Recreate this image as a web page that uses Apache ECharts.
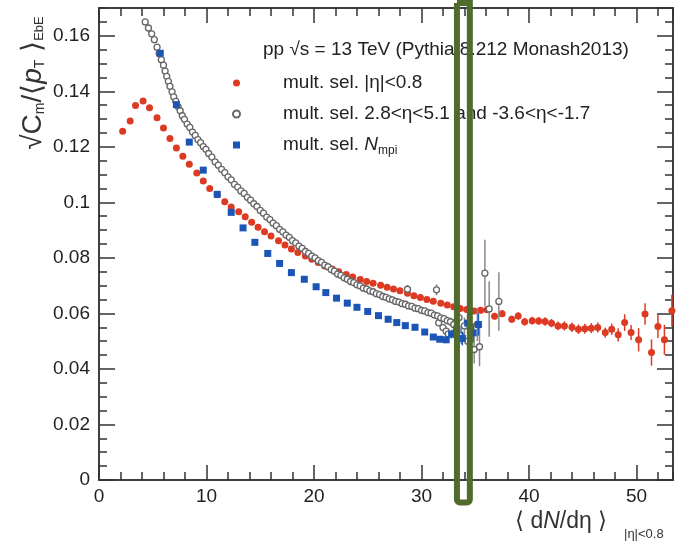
<!DOCTYPE html>
<html><head><meta charset="utf-8">
<script src="https://cdn.jsdelivr.net/npm/echarts@6/dist/echarts.min.js"></script>
<style>html,body{margin:0;padding:0;background:#fff}#c{width:682px;height:547px}</style>
</head><body><div id="c"></div>
<script>
// ---------------- data ----------------
const xMin = 0, xMax = 53.4, xMajor = 10, xMinor = 2;
const yMin = 0, yMax = 0.17, yMajor = 0.02, yMinor = 0.005;

const nameRed = 'mult. sel. |η|<0.8';
const nameGray = 'mult. sel. 2.8<η<5.1 and -3.6<η<-1.7';
const nameBlue = 'mult. sel. Nmpi';
const headerText = 'pp √s = 13 TeV (Pythia 8.212 Monash2013)';

const redX = [2.2,2.9,3.4,4.1,4.7,5.4,6.0,6.6,7.2,7.8,
  8.4,9.1,9.7,10.3,11.0,11.7,12.3,13.0,13.6,14.2,
  14.8,15.4,16.0,16.7,17.3,17.9,18.5,19.2,19.8,20.4,
  21.0,21.7,22.3,23.0,23.6,24.3,24.9,25.5,26.2,26.8,
  27.4,28.0,28.7,29.3,29.9,30.5,31.1,31.8,32.4,33.0,
  33.6,34.2,34.9,35.5,36.1,36.8,37.5,38.4,39.0,39.6,
  40.3,40.9,41.5,42.1,42.7,43.3,44.0,44.6,45.2,45.8,
  46.4,47.1,47.7,48.3,48.9,49.5,50.2,50.8,51.4,52.0,
  52.6,53.3];
const redY = [.1256,.1293,.1349,.1365,.1341,.1305,.1268,.1230,.1196,.1166,
  .1137,.1106,.1077,.1050,.1027,.1002,.0983,.0966,.0948,.0928,
  .0910,.0894,.0879,.0862,.0846,.0832,.0819,.0807,.0795,.0783,
  .0771,.0760,.0750,.0740,.0731,.0722,.0715,.0709,.0701,.0694,
  .0688,.0682,.0673,.0664,.0657,.0650,.0644,.0637,.0630,.0624,
  .0618,.0614,.0609,.0611,.0613,.0590,.0599,.0579,.0591,.0570,
  .0574,.0573,.0571,.0565,.0555,.0555,.0550,.0543,.0545,.0547,
  .0549,.0531,.0543,.0523,.0567,.0531,.0505,.0598,.0459,.0553,
  .0505,.0610];
const redErr = [.0002,.0002,.0002,.0002,.0002,.0002,.0002,.0002,.0002,.0002,
  .0002,.0002,.0002,.0002,.0002,.0002,.0002,.0002,.0002,.0002,
  .0003,.0003,.0003,.0003,.0003,.0003,.0003,.0003,.0003,.0003,
  .0004,.0004,.0004,.0004,.0004,.0004,.0004,.0004,.0004,.0004,
  .0005,.0005,.0006,.0006,.0007,.0007,.0008,.0008,.0009,.0009,
  .0010,.0010,.0010,.0011,.0011,.0012,.0012,.0013,.0013,.0014,
  .0014,.0014,.0015,.0015,.0016,.0016,.0017,.0017,.0018,.0018,
  .0018,.0018,.0020,.0024,.0030,.0027,.0042,.0039,.0047,.0042,
  .0054,.0057];

const grayX = [4.3,4.6,4.9,5.15,5.4,5.6,5.8,6.0,6.15,6.3,
  6.45,6.6,6.8,6.95,7.15,7.35,7.55,7.75,7.95,8.2,
  8.45,8.7,8.95,9.2,9.45,9.7,9.95,10.2,10.5,10.8,
  11.1,11.4,11.7,12.0,12.3,12.6,12.9,13.2,13.5,13.8,
  14.1,14.4,14.7,15.0,15.3,15.6,15.9,16.2,16.5,16.8,
  17.1,17.4,17.7,18.0,18.3,18.6,18.9,19.2,19.5,19.8,
  20.1,20.4,20.7,21.0,21.3,21.6,21.9,22.2,22.5,22.8,
  23.1,23.4,23.7,24.0,24.3,24.6,24.9,25.2,25.5,25.8,
  26.1,26.4,26.7,27.0,27.3,27.6,27.9,28.2,28.5,28.8,
  29.1,29.4,29.7,30.0,30.3,30.6,30.9,31.2,31.5,31.6,
  31.8,32.0,32.1,32.3,32.4,32.5];
const grayY = [.1650,.1628,.1607,.1586,.1559,.1536,.1514,.1494,.1473,.1454,
  .1436,.1418,.1398,.1380,.1364,.1345,.1330,.1312,.1299,.1282,
  .1270,.1253,.1241,.1226,.1215,.1201,.1191,.1176,.1163,.1146,
  .1134,.1119,.1107,.1092,.1081,.1065,.1055,.1041,.1032,.1018,
  .1008,.0995,.0985,.0971,.0961,.0947,.0938,.0925,.0916,.0903,
  .0894,.0882,.0874,.0862,.0854,.0842,.0834,.0823,.0816,.0806,
  .0800,.0790,.0784,.0774,.0768,.0758,.0752,.0742,.0737,.0728,
  .0723,.0715,.0711,.0703,.0699,.0691,.0688,.0681,.0678,.0671,
  .0668,.0661,.0658,.0652,.0649,.0643,.0641,.0635,.0633,.0627,
  .0625,.0619,.0617,.0611,.0609,.0603,.0601,.0594,.0591,.0566,
  .0584,.0549,.0581,.0536,.0574,.0526];
const grayTailX = [28.7,31.4,32.7,33.0,33.2,33.5,33.7,34.0,34.3,34.6,34.9,35.2,35.4,35.9,36.3,37.2];
const grayTailY = [.0687,.0685,.0570,.0560,.0535,.0585,.0520,.0555,.0500,.0545,.0470,.0560,.0480,.0745,.0616,.0643];
const grayTailErr = [.0015,.0020,.0015,.0020,.0020,.0025,.0030,.0030,.0035,.0040,.0050,.0060,.0070,.0120,.0100,.0105];

const blueX = [5.7,7.2,8.4,9.7,11.0,12.3,13.4,14.5,15.7,16.8,
  17.9,19.1,20.2,21.1,22.1,23.1,24.0,25.0,26.0,26.9,
  27.7,28.5,29.4,30.3,31.1,31.7,32.3,32.8,33.3,33.8,
  34.3,34.8,35.3];
const blueY = [.1537,.1352,.1217,.1116,.1029,.0964,.0908,.0856,.0816,.0780,
  .0747,.0723,.0696,.0675,.0655,.0637,.0622,.0607,.0592,.0579,
  .0567,.0556,.0550,.0533,.0515,.0507,.0505,.0525,.0545,.0510,
  .0565,.0530,.0560];
const blueErr = [0,0,0,0,0,0,0,0,0,0,
  0,0,0,0,0,0,0,0,0,0,
  0,0,0,0,0,0,.0010,.0015,.0020,.0025,
  .0030,.0035,.0040];

// highlight box (annotation) in data coordinates
const boxX = [33.3, 34.5];
const boxY = [0.1718, -0.0081];

// ---------------- chart ----------------
const FONT = '"Liberation Sans", Arial, Helvetica, sans-serif';
const AX = '#333';
const RED = '#dc3a22', BLUE = '#1b55b5', GRAY = '#666';

const zip3 = (xs, ys, es) => xs.map((x, i) => [x, ys[i], es ? es[i] : 0]);
const redData = zip3(redX, redY, redErr);
const grayData = zip3(grayX, grayY).concat(zip3(grayTailX, grayTailY, grayTailErr));
const blueData = zip3(blueX, blueY, blueErr);

function axis(kind, pos, grid, interval, tickLen, labels) {
  const isX = kind === 'x';
  return {
    type: 'value', gridIndex: grid, position: pos,
    min: isX ? xMin : yMin, max: isX ? xMax : yMax, interval: interval,
    axisLine: { show: true, onZero: false, lineStyle: { color: AX, width: 1.5 } },
    axisTick: { show: true, inside: true, length: tickLen, lineStyle: { color: AX, width: 1.5 } },
    axisLabel: labels ? { show: true, fontSize: 19, color: '#222', fontFamily: FONT, margin: isX ? 7 : 9, showMaxLabel: false } : { show: false },
    splitLine: { show: false }
  };
}

function errSeries(data, color, z) {
  return {
    type: 'custom', xAxisIndex: 0, yAxisIndex: 0, data: data, z: z, silent: true, clip: true,
    renderItem(params, api) {
      const x = api.value(0), y = api.value(1), e = api.value(2);
      if (!(e > 0)) return null;
      const a = api.coord([x, y - e]), b = api.coord([x, y + e]);
      return { type: 'line', shape: { x1: a[0], y1: a[1], x2: b[0], y2: b[1] }, style: { stroke: color, lineWidth: 1.5 } };
    }
  };
}

const gridRect = { left: 99, right: 9, top: 8, bottom: 67 };
const chart = echarts.init(document.getElementById('c'));
const option = {
  animation: false,
  backgroundColor: '#fff',
  textStyle: { fontFamily: FONT },
  grid: [Object.assign({}, gridRect), Object.assign({}, gridRect)],
  xAxis: [
    axis('x', 'bottom', 0, xMajor, 15, true),
    axis('x', 'top', 0, xMajor, 15, false),
    axis('x', 'bottom', 1, xMinor, 8, false),
    axis('x', 'top', 1, xMinor, 8, false)
  ],
  yAxis: [
    axis('y', 'left', 0, yMajor, 16, true),
    axis('y', 'right', 0, yMajor, 16, false),
    axis('y', 'left', 1, yMinor, 8, false),
    axis('y', 'right', 1, yMinor, 8, false)
  ],
  title: {
    text: headerText, left: 258, top: 35,
    textStyle: { fontSize: 19, fontWeight: 'normal', color: '#222', fontFamily: FONT }
  },
  legend: {
    data: [nameRed, nameGray, nameBlue],
    orient: 'vertical', left: 227, top: 67,
    itemWidth: 7, itemHeight: 7, itemGap: 9,
    selectedMode: false,
    formatter(name) {
      if (name === nameBlue) return '{g| }{t|mult. sel. }{i|N}{s|mpi}';
      return '{g| }{t|' + name + '}';
    },
    textStyle: {
      fontSize: 19, color: '#222', fontFamily: FONT, lineHeight: 22,
      rich: {
        g: { width: 38 },
        t: { fontSize: 19, color: '#222', fontFamily: FONT },
        i: { fontSize: 19, color: '#222', fontFamily: FONT, fontStyle: 'italic' },
        s: { fontSize: 12, color: '#222', fontFamily: FONT, padding: [12, 0, 0, 0] }
      }
    }
  },
  series: [
    errSeries(redData, RED, 2),
    { name: nameRed, type: 'scatter', xAxisIndex: 0, yAxisIndex: 0, z: 3, data: redData,
      symbol: 'circle', symbolSize: 7, itemStyle: { color: RED, opacity: 1 } },
    errSeries(grayData, '#8a8a8a', 4),
    { name: nameGray, type: 'scatter', xAxisIndex: 0, yAxisIndex: 0, z: 5, data: grayData,
      symbol: 'circle', symbolSize: 6, itemStyle: { color: '#fff', borderColor: GRAY, borderWidth: 1.3, opacity: 1 } },
    errSeries(blueData, BLUE, 6),
    { name: nameBlue, type: 'scatter', xAxisIndex: 0, yAxisIndex: 0, z: 7, data: blueData,
      symbol: 'rect', symbolSize: 7, itemStyle: { color: BLUE, opacity: 1 } }
  ]
};
chart.setOption(option);

const p1 = chart.convertToPixel({ gridIndex: 0 }, [boxX[0], boxY[0]]);
const p2 = chart.convertToPixel({ gridIndex: 0 }, [boxX[1], boxY[1]]);
chart.setOption({
  graphic: [
    { type: 'rect', z: 100, silent: true,
      shape: { x: p1[0], y: p1[1], width: p2[0] - p1[0], height: p2[1] - p1[1], r: [0, 0, 3, 3] },
      style: { fill: null, stroke: '#4f6b2d', lineWidth: 6 } },
    { type: 'text', z: 50, x: 33, y: 83, rotation: Math.PI / 2, silent: true,
      style: {
        text: '{a|√C}{s|m}{a|/⟨}{i|p}{s|T}{a| ⟩}{e|EbE}',
        align: 'center', verticalAlign: 'middle',
        rich: {
          a: { fontSize: 28, fill: '#333', fontFamily: FONT },
          i: { fontSize: 28, fill: '#333', fontFamily: FONT, fontStyle: 'italic' },
          s: { fontSize: 14, fill: '#333', fontFamily: FONT, padding: [14, 0, 0, 0] },
          e: { fontSize: 13, fill: '#333', fontFamily: FONT, padding: [12, 0, 0, 0] }
        }
      } },
    { type: 'text', z: 50, x: 515, y: 522, silent: true,
      style: {
        text: '{a|⟨ d}{i|N}{a|/dη ⟩}',
        align: 'left', verticalAlign: 'middle',
        rich: {
          a: { fontSize: 23, fill: '#333', fontFamily: FONT },
          i: { fontSize: 23, fill: '#333', fontFamily: FONT, fontStyle: 'italic' }
        }
      } },
    { type: 'text', z: 50, x: 624, y: 534, silent: true,
      style: { text: '|η|<0.8', fontSize: 13, fill: '#333', fontFamily: FONT, align: 'left', verticalAlign: 'middle' } }
  ]
});
</script></body></html>
